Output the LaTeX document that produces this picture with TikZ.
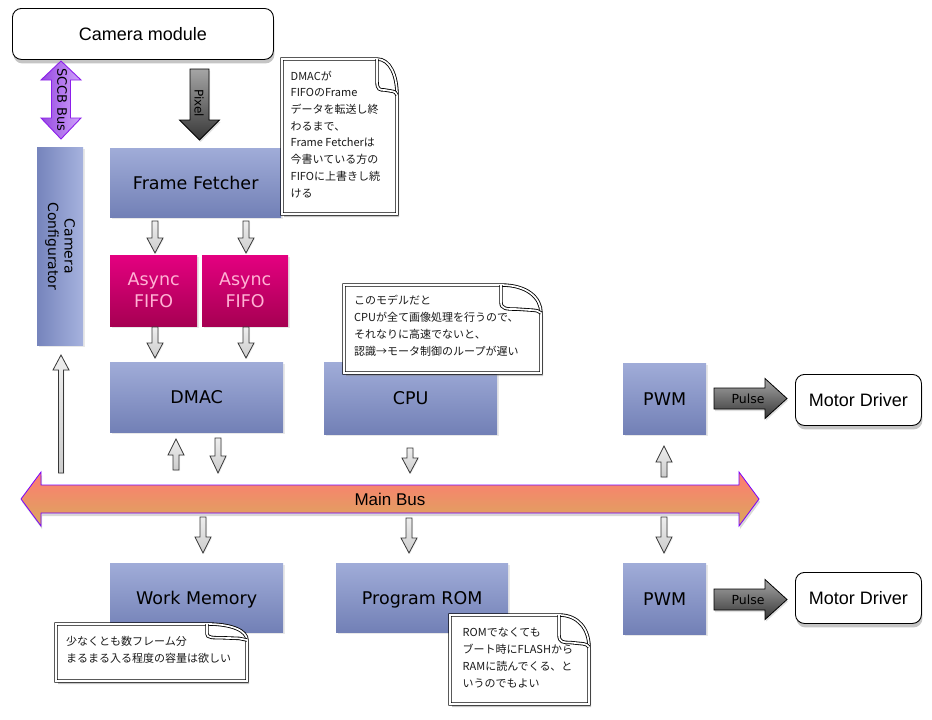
\documentclass[tikz,border=0pt]{standalone}
\usepackage{fontspec}
\setmainfont{DejaVu Sans}
\newfontfamily\hel{Liberation Sans}
\newfontfamily\jp{Noto Sans CJK JP}
\usetikzlibrary{shadows,calc}
\definecolor{blkT}{RGB}{160,172,216}
\definecolor{blkB}{RGB}{114,128,182}
\definecolor{ccL}{RGB}{118,132,188}
\definecolor{ccR}{RGB}{166,178,222}
\definecolor{fifoT}{RGB}{228,0,128}
\definecolor{fifoB}{RGB}{166,0,82}
\definecolor{fifoTx}{RGB}{255,178,212}
\definecolor{busT}{RGB}{255,122,114}
\definecolor{busB}{RGB}{218,168,92}
\definecolor{busD}{RGB}{120,0,255}
\definecolor{sccbL}{RGB}{150,72,225}
\definecolor{sccbR}{RGB}{208,165,250}
\definecolor{sccbD}{RGB}{140,30,235}
\definecolor{garT}{RGB}{238,238,238}
\definecolor{garB}{RGB}{204,204,204}
\definecolor{garD}{RGB}{55,55,55}
\definecolor{darT}{RGB}{165,165,165}
\definecolor{darB}{RGB}{55,55,55}
\newcommand\vblockarrow[7]{\path[#1] ({#2-#6},#3) -- ({#2-#6},#4) -- ({#2-#7},#4) -- (#2,#5) -- ({#2+#7},#4) -- ({#2+#6},#4) -- ({#2+#6},#3) -- cycle;}
\newcommand\hblockarrow[7]{\path[#1] (#3,{#2-#6}) -- (#4,{#2-#6}) -- (#4,{#2-#7}) -- (#5,#2) -- (#4,{#2+#7}) -- (#4,{#2+#6}) -- (#3,{#2+#6}) -- cycle;}
% note: x1 y1 x2 y2 foldw foldh
\newcommand\notebg[6]{%
  \path[noteout] (#1,#2) -- ({#3-#5},#2) .. controls ({#3-0.35*#5},#2) and (#3,{#2+0.45*#6}) .. (#3,{#2+#6}) -- (#3,#4) -- (#1,#4) -- cycle;
  \path[noteln] ({#3-#5},#2) -- ({#3-#5},{#2+0.62*#6}) .. controls ({#3-#5},{#2+0.86*#6}) and ({#3-0.85*#5},{#2+0.86*#6}) .. ({#3-0.62*#5},{#2+0.86*#6}) -- ({#3-0.2*#5},{#2+0.9*#6}) .. controls ({#3-0.08*#5},{#2+0.92*#6}) .. (#3,{#2+#6});
}
\tikzset{
  blkbase/.style={rectangle, inner sep=0pt, anchor=north west, top color=blkT, bottom color=blkB, text=black,
    font=\fontsize{17.5}{21}\selectfont, drop shadow={shadow xshift=2pt, shadow yshift=-2pt, opacity=0.18}},
  blk/.style={blkbase, text height=12.8pt, text depth=0pt},
  fifo/.style={blkbase, top color=fifoT, bottom color=fifoB, text=fifoTx, align=center, font=\fontsize{17.5}{22}\selectfont},
  ext/.style={rectangle, rounded corners=9pt, draw=black, line width=0.9pt, fill=white, inner sep=0pt, anchor=north west,
    font=\hel\fontsize{18}{21}\selectfont, drop shadow={shadow xshift=1pt, shadow yshift=-4pt, opacity=0.45}},
  garrow/.style={draw=garD, line width=0.8pt, top color=garT, bottom color=garB,
    drop shadow={shadow xshift=1pt, shadow yshift=-1pt, opacity=0.12}},
  darrow/.style={draw=black, line width=0.8pt, top color=darT, bottom color=darB,
    drop shadow={shadow xshift=1pt, shadow yshift=-2pt, opacity=0.25}},
  noteout/.style={fill=white, draw=black, line width=0.85pt, double=white, double distance=1.7pt,
    drop shadow={shadow xshift=2pt, shadow yshift=-3pt, opacity=0.45}},
  noteln/.style={draw=black, line width=0.85pt, double=white, double distance=1.7pt},
  notetxt/.style={font=\jp\fontsize{11}{16.7}\selectfont, align=left, inner sep=0pt, anchor=base west, text=black!90},
  lbl/.style={inner sep=0pt, text=black}
}
\begin{document}
\begin{tikzpicture}[x=1pt,y=-1pt]
\useasboundingbox (0,0) rectangle (932,720);
\fill[white] (0,0) rectangle (932,720);

% external nodes
\node[ext, minimum width=261pt, minimum height=51pt] (cam) at (12,8) {Camera module};
\node[ext, minimum width=126pt, minimum height=51pt] (md1) at (795,374) {Motor Driver};
\node[ext, minimum width=126pt, minimum height=51pt] (md2) at (795,572) {Motor Driver};

% blocks
\node[blk, minimum width=171pt, minimum height=69pt] (ff) at (110,148) {Frame Fetcher};
\node[fifo, minimum width=87pt, minimum height=71pt] (fifo1) at (110,255) {Async\\FIFO};
\node[fifo, minimum width=86pt, minimum height=71pt] (fifo2) at (202,255) {Async\\FIFO};
\node[blk, minimum width=173pt, minimum height=70pt] (dmac) at (110,362) {DMAC};
\node[blk, minimum width=173pt, minimum height=72pt] (cpu) at (324,362) {CPU};
\node[blk, minimum width=83pt, minimum height=71pt] (pwm1) at (623,363) {PWM};
\node[blk, minimum width=173pt, minimum height=69pt] (wm) at (110,563) {Work Memory};
\node[blk, minimum width=172pt, minimum height=69pt] (rom) at (336,563) {Program ROM};
\node[blk, minimum width=83pt, minimum height=71pt] (pwm2) at (623,563) {PWM};
\node[blkbase, minimum width=46pt, minimum height=198pt, left color=ccL, right color=ccR] (cc) at (37,147) {};
\node[lbl, rotate=-90, align=center, font=\fontsize{14}{16.5}\selectfont] (cctext) at (cc.center) {Camera\\Configurator};

% SCCB bus double arrow
\path[draw=sccbD, line width=0.9pt, left color=sccbL, right color=sccbR]
  (61,61) -- (81,80) -- (70.5,80) -- (70.5,118) -- (81,118) -- (61,139) -- (41,118) -- (51.5,118) -- (51.5,80) -- (41,80) -- cycle;
\node[lbl, rotate=-90, font=\fontsize{13}{15}\selectfont] (sccb) at (62,100) {SCCB Bus};

% Pixel arrow
\vblockarrow{darrow}{199.5}{69}{120}{140}{9.5}{20}
\node[lbl, rotate=-90, font=\fontsize{12}{14}\selectfont] (pix) at (199,103) {Pixel};

% Pulse arrows
\hblockarrow{darrow}{398.5}{714}{765}{787}{10.5}{20}
\node[lbl, font=\fontsize{12.5}{14}\selectfont] (pulse1) at (748,399) {Pulse};
\hblockarrow{darrow}{599.5}{714}{765}{787}{10.5}{20}
\node[lbl, font=\fontsize{12.5}{14}\selectfont] (pulse2) at (748,600) {Pulse};

% main bus
\path[draw=busD, line width=0.8pt, top color=busT, bottom color=busB,
  drop shadow={shadow xshift=1pt, shadow yshift=-3pt, opacity=0.3}]
  (21,499) -- (41,472) -- (41,485) -- (739,485) -- (739,472) -- (759,499) -- (739,526) -- (739,513) -- (41,513) -- (41,526) -- cycle;
\node[lbl, font=\hel\fontsize{17}{20}\selectfont] (bus) at (390,499) {Main Bus};

% small gray arrows
\vblockarrow{garrow}{155}{221}{238}{253}{3}{8}
\vblockarrow{garrow}{246}{221}{238}{253}{3}{8}
\vblockarrow{garrow}{155}{327}{343}{358}{3}{8}
\vblockarrow{garrow}{246}{327}{343}{358}{3}{8}
\vblockarrow{garrow}{176}{470}{455}{439}{3}{8}
\vblockarrow{garrow}{218}{438}{456}{473}{3}{8}
\vblockarrow{garrow}{61}{473}{370}{355}{2.5}{8}
\vblockarrow{garrow}{410}{448}{458}{473}{3}{8}
\vblockarrow{garrow}{664}{477}{462}{446}{3}{8}
\vblockarrow{garrow}{203}{517}{537}{553}{3}{8}
\vblockarrow{garrow}{409}{518}{538}{553}{3}{8}
\vblockarrow{garrow}{664}{517}{537}{553}{3}{8}

% notes
\notebg{282}{59}{397}{214}{20}{36}
\node[notetxt] (note1) at (290.5,197) {DMACが\\FIFOのFrame\\データを転送し終\\わるまで、\\Frame Fetcherは\\今書いている方の\\FIFOに上書きし続\\ける};
\notebg{344}{285}{541}{373}{40}{28}
\node[notetxt] (note2) at (354,355) {このモデルだと\\CPUが全て画像処理を行うので、\\それなりに高速でないと、\\認識→モータ制御のループが遅い};
\notebg{56}{624}{247}{681}{40}{16}
\node[notetxt] (note3) at (66,662) {少なくとも数フレーム分\\まるまる入る程度の容量は欲しい};
\notebg{450}{615}{589}{704}{30}{32}
\node[notetxt] (note4) at (462.5,687) {ROMでなくても\\ブート時にFLASHから\\RAMに読んでくる、と\\いうのでもよい};
\end{tikzpicture}
\end{document}
